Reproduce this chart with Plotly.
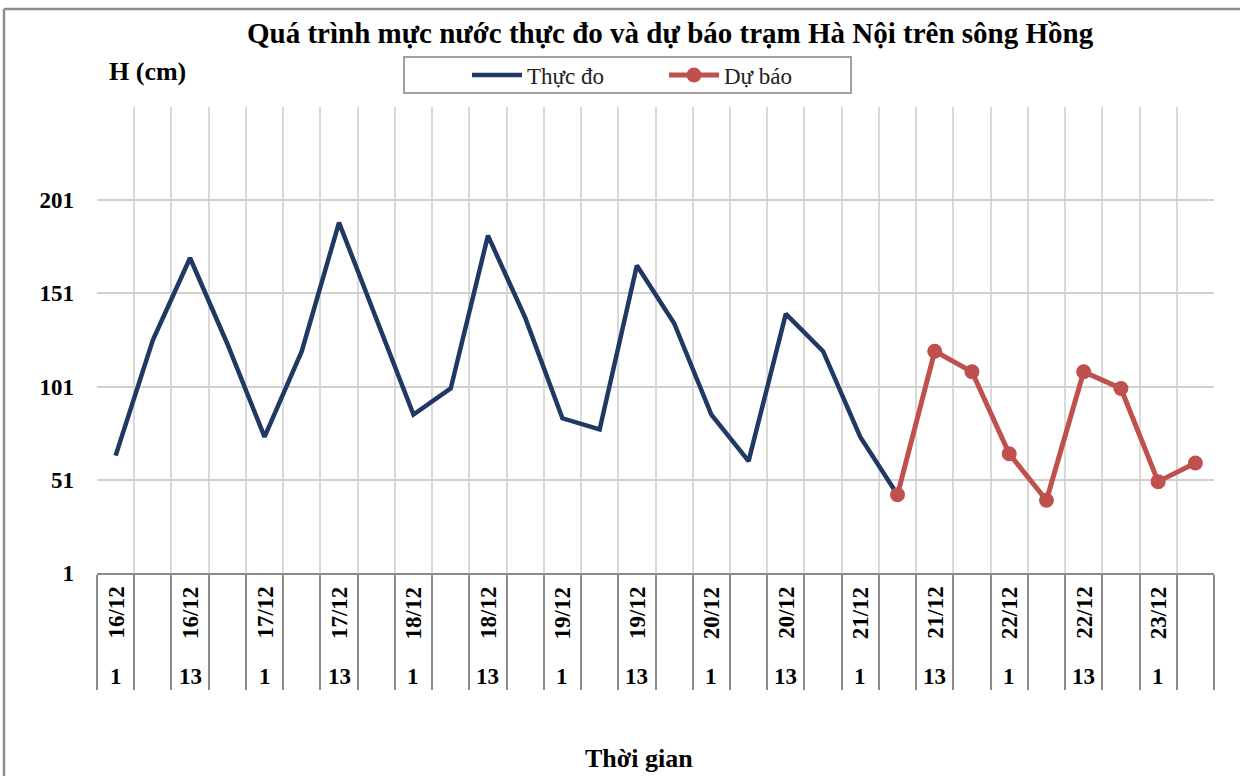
import plotly.graph_objects as go

# ---- data ----
days = ["16/12", "17/12", "18/12", "19/12", "20/12", "21/12", "22/12", "23/12"]
hours = [1, 7, 13, 19]
categories = [f"{d} {h}h" for d in days for h in hours][:30]

observed = [64, 126, 170, 124, 74, 120, 189, 138, 86, 100, 182, 138, 84, 78,
            166, 135, 86, 61, 140, 120, 74, 43]
forecast = [43, 120, 109, 65, 40, 109, 100, 50, 60]

y_ticks = [1, 51, 101, 151, 201]

title_text = "Quá trình mực nước thực đo và dự báo trạm Hà Nội trên sông Hồng"
y_title = "H (cm)"
x_title = "Thời gian"

# ---- layout geometry (pixels) ----
W, H = 1240, 776
L, R, T, B = 97, 26, 107, 203
PW, PH = W - L - R, H - T - B


def px(x):
    return (x - L) / PW


def py(y):
    return (H - B - y) / PH


FONT = "Liberation Serif"

fig = go.Figure()
fig.add_trace(go.Scatter(
    x=categories[:len(observed)], y=observed, mode="lines", name="Thực đo",
    line=dict(color="#1F3864", width=4.5)))
fig.add_trace(go.Scatter(
    x=categories[len(observed) - 1:len(observed) - 1 + len(forecast)], y=forecast,
    mode="lines+markers", name="Dự báo",
    line=dict(color="#C0504D", width=5),
    marker=dict(color="#C0504D", size=15)))

annotations = []
bold = lambda s: dict(family=FONT, size=s, color="black", weight="bold")
# table labels below x axis
for c in categories:
    d, h = c.split(" ")
    h = int(h[:-1])
    if h in (1, 13):
        annotations.append(dict(
            x=c, y=py(613), xref="x", yref="paper", text=d, textangle=-90,
            xanchor="center", yanchor="middle", showarrow=False, font=bold(23)))
        annotations.append(dict(
            x=c, y=py(676), xref="x", yref="paper", text=str(h),
            xanchor="center", yanchor="middle", showarrow=False, font=bold(23)))

annotations.append(dict(x=px(670), y=py(33), xref="paper", yref="paper", text=title_text,
                        xanchor="center", yanchor="middle", showarrow=False, font=bold(29)))
annotations.append(dict(x=px(147), y=py(71), xref="paper", yref="paper", text=y_title,
                        xanchor="center", yanchor="middle", showarrow=False, font=bold(26)))
annotations.append(dict(x=px(639), y=py(758), xref="paper", yref="paper", text=x_title,
                        xanchor="center", yanchor="middle", showarrow=False, font=bold(26)))

shapes = [
    # legend box
    dict(type="rect", xref="paper", yref="paper", x0=px(404), x1=px(851), y0=py(93), y1=py(57),
         line=dict(color="#A0A0A0", width=2), fillcolor="rgba(0,0,0,0)"),
    # outer border (top & left)
    dict(type="line", xref="paper", yref="paper", x0=px(4), x1=px(1245), y0=py(9), y1=py(9),
         line=dict(color="#8C8C8C", width=2.5)),
    dict(type="line", xref="paper", yref="paper", x0=px(4), x1=px(4), y0=py(9), y1=py(790),
         line=dict(color="#8C8C8C", width=2.5)),
]

fig.update_layout(
    width=W, height=H,
    margin=dict(l=L, r=R, t=T, b=B, autoexpand=False),
    paper_bgcolor="white", plot_bgcolor="white",
    showlegend=True,
    legend=dict(orientation="h", x=px(467), y=py(75), xanchor="left", yanchor="middle",
                entrywidth=132, entrywidthmode="pixels", itemwidth=50,
                bgcolor="rgba(0,0,0,0)", font=dict(family=FONT, size=23, color="#222")),
    annotations=annotations,
    shapes=shapes,
)

fig.update_xaxes(
    type="category", categoryorder="array", categoryarray=categories,
    range=[-0.5, len(categories) - 0.5],
    tickson="boundaries", showgrid=True, gridcolor="#D9D9D9", gridwidth=2,
    showticklabels=False, ticks="outside", ticklen=115, tickwidth=2, tickcolor="#8C8C8C",
    showline=True, linecolor="#8C8C8C", linewidth=2, zeroline=False, fixedrange=True)

fig.update_yaxes(
    range=[1, 251], tickmode="array", tickvals=y_ticks, ticktext=[str(v) for v in y_ticks],
    showgrid=True, gridcolor="#D0D0D0", gridwidth=2, zeroline=False, showline=False,
    ticks="", ticklabelstandoff=22,
    tickfont=bold(23), fixedrange=True)

fig.write_html("out.html", config={"displayModeBar": False},
               post_script="document.body.style.margin='0';document.body.style.overflow='hidden';")
